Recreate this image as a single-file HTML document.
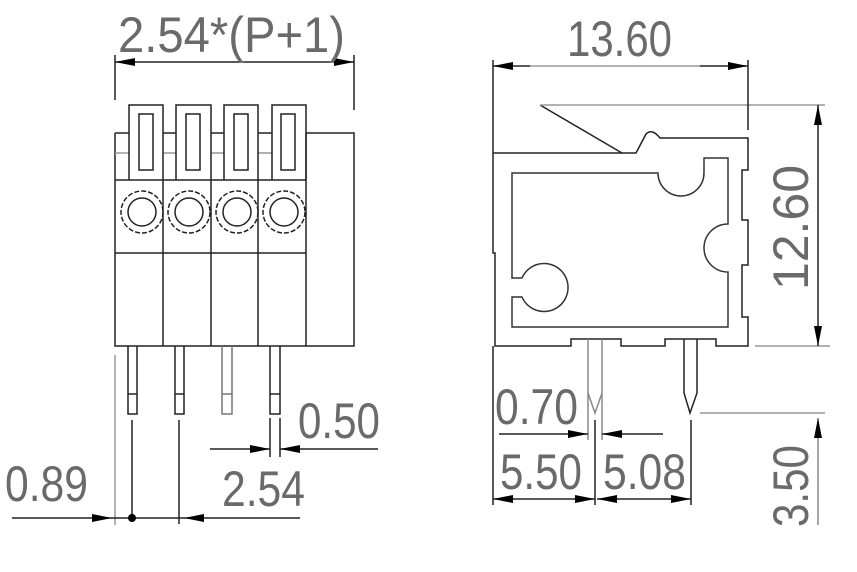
<!DOCTYPE html>
<html><head><meta charset="utf-8"><style>
html,body{margin:0;padding:0;background:#fff;width:857px;height:572px;overflow:hidden}
svg{display:block}
text{font-family:"Liberation Sans",sans-serif;fill:#6a6a6a;}
</style></head><body>
<svg width="857" height="572" viewBox="0 0 857 572" xmlns="http://www.w3.org/2000/svg">
<defs>
<marker id="a" viewBox="0 0 10 4" refX="10" refY="2" markerWidth="28" markerHeight="8" markerUnits="userSpaceOnUse" orient="auto"><path d="M0,0 L10,2 L0,4 z" fill="#000"/></marker>
</defs>
<g fill="none" stroke="#222" stroke-width="1.5">
<!-- LEFT VIEW -->
<path d="M115,133 V346 H354 V133 H306"/>
<path d="M115,133 H129 M163,133 H176 M211,133 H224 M258,133 H272"/>
<path d="M115,153 H129 M163,153 H176 M211,153 H224 M258,153 H272" stroke="#999"/>
<path d="M129,180 V105 H163 V180 M176,180 V105 H211 V180 M224,180 V105 H258 V180 M272,180 V105 H306 V180"/>
<rect x="139" y="114" width="14" height="56"/><rect x="186" y="114" width="14" height="56"/><rect x="234" y="114" width="14" height="56"/><rect x="281" y="114" width="14" height="56"/>
<path d="M115,180 H306 M115,253 H306 M163,180 V346 M211,180 V346 M258,180 V346 M306,133 V346"/>
<g stroke-dasharray="5,2">
<circle cx="142" cy="212" r="21"/>
<circle cx="189" cy="212" r="21"/>
<circle cx="237" cy="212" r="21"/>
<circle cx="284" cy="212" r="21"/>
</g>
<circle cx="142" cy="212" r="14"/><circle cx="189" cy="212" r="14"/><circle cx="237" cy="212" r="14"/><circle cx="284" cy="212" r="14"/>
<!-- pins -->
<path d="M128,346 V414 H137 V346 M128,394 H137"/>
<path d="M175,346 V414 H184 V346 M175,394 H184"/>
<path d="M222,346 V414 H232 V346 M222,394 H232" stroke="#777"/>
<path d="M270,346 V414 H280 V346 M270,394 H280"/>
<!-- dims left -->
<path d="M115,55 V100 M354,55 V110" />
<line x1="150" y1="62" x2="115" y2="62" marker-end="url(#a)"/>
<line x1="300" y1="62" x2="354" y2="62" marker-end="url(#a)"/>
<line x1="150" y1="62" x2="300" y2="62"/>
<path d="M115,355 V525" stroke="#999"/>
<path d="M132,420 V518 M179,420 V524 M270,418 V457 M280,418 V457"/>
<line x1="12" y1="518" x2="112" y2="518" marker-end="url(#a)"/>
<line x1="112" y1="518" x2="184" y2="518"/>
<line x1="300" y1="518" x2="184" y2="518" marker-end="url(#a)"/>
<line x1="210" y1="449" x2="270" y2="449" marker-end="url(#a)"/>
<line x1="378" y1="449" x2="280" y2="449" marker-end="url(#a)"/>
<!-- RIGHT VIEW -->
<path d="M493,60 V253 H495 V346 H571 V339 H621 V346 H665 V339 H716 V346 H748 V317 H742 V265 H748 V220 H742 V170 H748 V138 H660 Q652,128 646,134 L636,153 H493"/>
<path d="M540,105 L622,153" />
<path d="M540,105 H825" stroke="#999"/>
<path d="M748,60 V130"/>
<path d="M512,173 H658 A23,23 0 0 0 704,173 V158 H728 V224 A24,24 0 0 0 728,272 V327 H512 V297 H522 A24,24 0 1 0 522,278 H512 Z" stroke="#333"/>
<path d="M588,339 V440 M602,339 V440" stroke="#888"/>
<path d="M588,393 L595,413 L602,393" stroke="#888"/>
<path d="M684,339 V393 L690,413 L697,393 V339"/>
<path d="M700,413 H825" stroke="#999"/>
<path d="M755,346 H830" stroke="#999"/>
<path d="M595,420 V505 M691,420 V505 M493,346 V505"/>
<line x1="499" y1="434" x2="588" y2="434" marker-end="url(#a)"/>
<line x1="663" y1="434" x2="602" y2="434" marker-end="url(#a)"/>
<line x1="520" y1="499" x2="493" y2="499" marker-end="url(#a)"/>
<line x1="520" y1="499" x2="595" y2="499" marker-end="url(#a)"/>
<line x1="625" y1="499" x2="597" y2="499" marker-end="url(#a)"/>
<line x1="625" y1="499" x2="691" y2="499" marker-end="url(#a)"/>
<line x1="530" y1="66" x2="493" y2="66" marker-end="url(#a)"/>
<line x1="700" y1="66" x2="748" y2="66" marker-end="url(#a)"/>
<line x1="530" y1="66" x2="700" y2="66" stroke="#999"/>
<line x1="818" y1="200" x2="818" y2="105" marker-end="url(#a)"/>
<line x1="818" y1="250" x2="818" y2="346" marker-end="url(#a)"/>
<line x1="818" y1="200" x2="818" y2="250"/>
<line x1="818" y1="525" x2="818" y2="418" marker-end="url(#a)" stroke="#888"/>
</g>
<circle cx="132" cy="518" r="4" fill="#000"/>
<g font-size="50">
<text x="118" y="52" textLength="227" lengthAdjust="spacingAndGlyphs">2.54*(P+1)</text>
<text x="567" y="56" textLength="105" lengthAdjust="spacingAndGlyphs">13.60</text>
<text x="298" y="438" textLength="82" lengthAdjust="spacingAndGlyphs">0.50</text>
<text x="5" y="501" textLength="83" lengthAdjust="spacingAndGlyphs">0.89</text>
<text x="222" y="506" textLength="83" lengthAdjust="spacingAndGlyphs">2.54</text>
<text x="495" y="424" textLength="83" lengthAdjust="spacingAndGlyphs">0.70</text>
<text x="500" y="489" textLength="82" lengthAdjust="spacingAndGlyphs">5.50</text>
<text x="603" y="489" textLength="83" lengthAdjust="spacingAndGlyphs">5.08</text>
<text transform="translate(808,290) rotate(-90)" textLength="125" lengthAdjust="spacingAndGlyphs">12.60</text>
<text transform="translate(808,527) rotate(-90)" textLength="82" lengthAdjust="spacingAndGlyphs">3.50</text>
</g>
</svg>
</body></html>
